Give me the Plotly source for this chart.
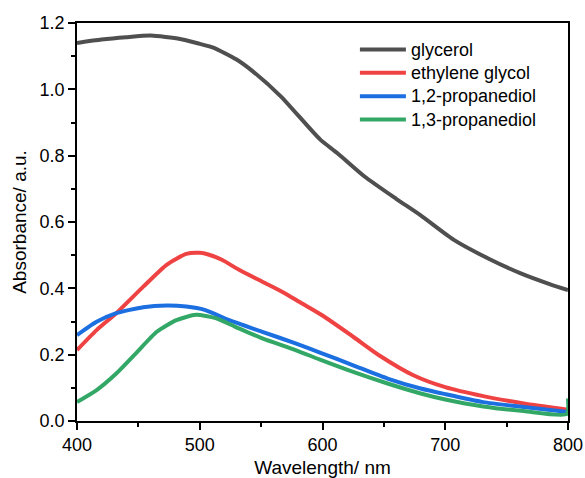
import plotly.graph_objects as go

# Wavelength (nm) and absorbance values
gly_x = [400, 420, 440, 460, 484, 500, 511, 530, 543, 566, 598, 612, 634, 660, 680, 707, 735, 761, 785, 800]
gly_y = [1.140, 1.150, 1.157, 1.162, 1.152, 1.137, 1.126, 1.090, 1.055, 0.979, 0.849, 0.808, 0.738, 0.670, 0.620, 0.546, 0.490, 0.446, 0.413, 0.395]

eg_x = [400, 416, 432, 454, 473, 489, 500, 507, 518, 532, 551, 567, 583, 600, 625, 647, 674, 700, 731, 764, 800]
eg_y = [0.214, 0.274, 0.325, 0.405, 0.471, 0.504, 0.507, 0.502, 0.486, 0.456, 0.420, 0.390, 0.355, 0.318, 0.254, 0.196, 0.138, 0.102, 0.075, 0.053, 0.034]

pd12_x = [400, 416, 432, 454, 473, 489, 504, 524, 551, 578, 599, 625, 653, 680, 700, 731, 764, 800]
pd12_y = [0.259, 0.299, 0.325, 0.343, 0.348, 0.345, 0.335, 0.304, 0.269, 0.234, 0.205, 0.168, 0.128, 0.098, 0.081, 0.057, 0.042, 0.027]

pd13_x = [400, 416, 432, 448, 465, 481, 497, 513, 529, 551, 578, 598, 625, 653, 680, 700, 731, 764, 799, 800]
pd13_y = [0.057, 0.093, 0.143, 0.204, 0.269, 0.304, 0.320, 0.310, 0.284, 0.249, 0.214, 0.185, 0.148, 0.113, 0.083, 0.065, 0.044, 0.030, 0.021, 0.068]

names = ["glycerol", "ethylene glycol", "1,2-propanediol", "1,3-propanediol"]
colors = ["#4f4f4f", "#ef4343", "#1c6fe0", "#33a866"]

fig = go.Figure()
for nm, xs, ys, c in zip(names, [gly_x, eg_x, pd12_x, pd13_x], [gly_y, eg_y, pd12_y, pd13_y], colors):
    fig.add_trace(go.Scatter(x=xs, y=ys, mode="lines",
                             name='<span style="font-size:18px">' + nm + '</span>',
                             line=dict(color=c, width=4, shape="spline", smoothing=0.6)))

font_family = "Liberation Sans, Arial, sans-serif"
fig.update_layout(
    width=585, height=478,
    margin=dict(l=77, r=17, t=23, b=57),
    paper_bgcolor="white", plot_bgcolor="white",
    font=dict(family=font_family, size=18, color="black"),
    showlegend=True,
    legend=dict(x=0.566, y=0.975, xanchor="left", yanchor="top",
                bgcolor="rgba(0,0,0,0)", font=dict(size=15.6, family=font_family),
                tracegroupgap=0, itemwidth=46),
)
fig.update_xaxes(range=[400, 800], tickvals=[400, 500, 600, 700, 800],
                 ticks="outside", ticklen=7, tickwidth=1.5, tickcolor="black",
                 minor=dict(ticks="outside", ticklen=4, tickwidth=1.5, tickcolor="black", dtick=50),
                 showline=True, linecolor="black", linewidth=1.5, mirror=True,
                 showgrid=False, zeroline=False, automargin=False,
                 title=dict(text="Wavelength/ nm", font=dict(size=19), standoff=21),
                 tickfont=dict(size=18))
fig.update_yaxes(range=[0, 1.2], tickvals=[0, 0.2, 0.4, 0.6, 0.8, 1.0, 1.2],
                 ticktext=["0.0", "0.2", "0.4", "0.6", "0.8", "1.0", "1.2"],
                 ticks="outside", ticklen=7, tickwidth=1.5, tickcolor="black",
                 minor=dict(ticks="outside", ticklen=4, tickwidth=1.5, tickcolor="black", dtick=0.1),
                 showline=True, linecolor="black", linewidth=1.5, mirror=True,
                 showgrid=False, zeroline=False, automargin=False,
                 title=dict(text="Absorbance/ a.u.", font=dict(size=19), standoff=8),
                 tickfont=dict(size=18))

fig.write_html("out.html", config={"displayModeBar": False},
               post_script="document.body.style.margin='0';document.body.style.overflow='hidden';")
